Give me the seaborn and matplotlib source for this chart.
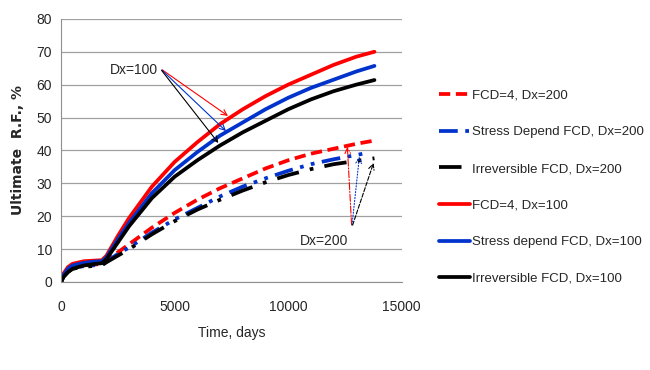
import numpy as np
import pandas as pd
import seaborn as sns
import matplotlib.pyplot as plt

# time axis (days) shared by most series
days = [0, 100, 300, 500, 1000, 1500, 1800, 2000, 2500, 3000, 4000, 5000,
        6000, 7000, 8000, 9000, 10000, 11000, 12000, 13000, 13800]
days_sd200 = days[:-1] + [13300]

fcd4_dx200 = [0, 2, 3.5, 4.5, 5, 5.3, 5.5, 6.5, 9, 11.5, 16.5, 21,
              25, 28.5, 31.5, 34.5, 37, 39, 40.5, 42, 43]
stress_dx200 = [0, 1.8, 3.3, 4.3, 4.8, 5.1, 5.3, 6.2, 8.5, 10.5, 15, 19,
                22.5, 26, 29, 31.5, 33.8, 35.8, 37.3, 38.6, 39]
irrev_dx200 = [0, 1.5, 3, 4, 4.6, 4.9, 5.1, 6, 8, 10, 14.5, 18.5,
               22, 25, 27.8, 30.3, 32.5, 34.3, 35.8, 36.8, 37.6]
fcd4_dx100 = [0, 2.5, 4.5, 5.5, 6.3, 6.5, 6.6, 8, 14, 19.5, 29, 36.5,
              42.5, 48, 52.5, 56.5, 60, 63, 66, 68.5, 70]
stress_dx100 = [0, 2, 4, 5, 5.8, 6.2, 6.3, 7.5, 13, 18, 27, 34,
                39.5, 44.5, 48.5, 52.5, 56, 59, 61.5, 64, 65.7]
irrev_dx100 = [0, 1.5, 3, 4, 5, 5.5, 5.7, 7, 12, 17, 25.5, 32,
               37, 41.5, 45.5, 49, 52.5, 55.5, 58, 60, 61.4]

series = [
    ("FCD=4, Dx=200", days, fcd4_dx200, "#ff0000", (3, 1.5)),
    ("Stress Depend FCD, Dx=200", days_sd200, stress_dx200, "#0033cc", (5, 2, 1, 2, 1, 2)),
    ("Irreversible FCD, Dx=200", days, irrev_dx200, "#000000", (6, 3, 1, 3)),
    ("FCD=4, Dx=100", days, fcd4_dx100, "#ff0000", None),
    ("Stress depend FCD, Dx=100", days, stress_dx100, "#0033cc", None),
    ("Irreversible FCD, Dx=100", days, irrev_dx100, "#000000", None),
]

sns.set_style("white")
plt.rcParams['font.family'] = ['Liberation Sans', 'DejaVu Sans']

fig = plt.figure(figsize=(6.5, 3.7), dpi=100)
ax = fig.add_axes([0.094, 0.238, 0.524, 0.711])

for label, x, y, color, dash in series:
    df = pd.DataFrame({"t": x, "rf": y})
    sns.lineplot(data=df, x="t", y="rf", ax=ax, color=color, lw=2.7,
                 label=label, sort=False)
    if dash is not None:
        ax.lines[-1].set_dashes(dash)

ax.set_xlim(0, 15000)
ax.set_ylim(0, 80)
ax.set_xticks([0, 5000, 10000, 15000])
ax.set_yticks(range(0, 81, 10))
ax.yaxis.grid(True, color="#a0a0a0", lw=0.9)
ax.set_axisbelow(True)
for s in ["top", "right"]:
    ax.spines[s].set_visible(False)
for s in ["left", "bottom"]:
    ax.spines[s].set_color("#909090")
ax.tick_params(axis="x", direction="out", length=4, color="#909090", labelsize=10, pad=9)
ax.tick_params(axis="y", direction="out", length=3, color="#909090", labelsize=10)

ax.set_xlabel("Time, days", fontsize=10, labelpad=9)
ax.set_ylabel("Ultimate  R.F., %", fontsize=10, fontweight="bold",
              family=["DejaVu Sans"], labelpad=8)

# annotations
ax.text(2150, 64.5, "Dx=100", fontsize=10, va="center", ha="left")
for (tx, ty), c in zip([(7450, 50), (7350, 45.3), (7000, 41.6)],
                       ["#ff0000", "#0033cc", "#000000"]):
    ax.annotate("", xy=(tx, ty), xytext=(4350, 65),
                arrowprops=dict(arrowstyle="->", color=c, lw=0.8))

ax.text(10500, 12.5, "Dx=200", fontsize=10, va="center", ha="left")
for (tx, ty), c, ls in zip([(12600, 42), (13150, 39), (13800, 37)],
                           ["#ff0000", "#0033cc", "#000000"],
                           ["-.", ":", "--"]):
    ax.annotate("", xy=(tx, ty), xytext=(12800, 16.5),
                arrowprops=dict(arrowstyle="->", color=c, lw=0.8, linestyle=ls))

leg = ax.legend(loc="center left", bbox_to_anchor=(1.095, 0.36), frameon=False,
                borderaxespad=0, fontsize=9.5, labelspacing=1.85,
                handlelength=2.3, handletextpad=0.15)

fig.savefig("out.png", dpi=100)
